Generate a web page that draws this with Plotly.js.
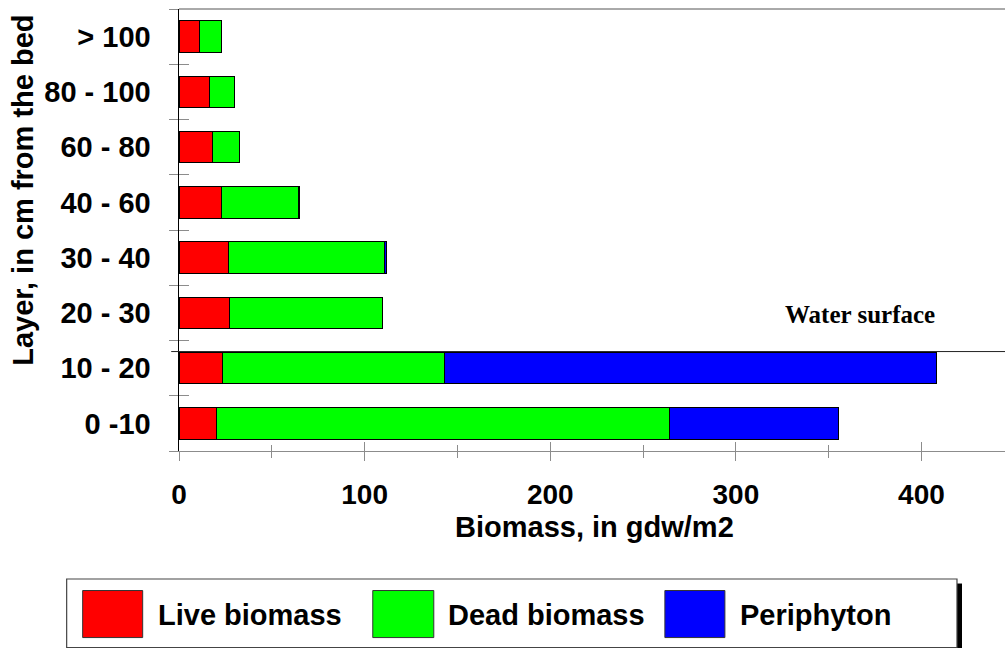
<!DOCTYPE html>
<html>
<head>
<meta charset="utf-8">
<script src="https://cdn.plot.ly/plotly-3.0.1.min.js"></script>
<style>html,body{margin:0;padding:0;background:#fff;}#chart{width:1005px;height:648px;}</style>
</head>
<body>
<div id="chart"></div>
<script>
// ---- data ----
const categories = ["0 -10", "10 - 20", "20 - 30", "30 - 40", "40 - 60", "60 - 80", "80 - 100", "> 100"];
const liveBiomass = [20, 23.7, 27.2, 26.6, 22.8, 18.3, 16.5, 11.2];
const deadBiomass = [244, 119.5, 82.4, 84.3, 41.7, 14.4, 13.5, 11.6];
const periphyton  = [91.5, 265, null, 1.1, 0.5, null, null, null];
const seriesNames = ["Live biomass", "Dead biomass", "Periphyton"];
const seriesColors = ["#ff0000", "#00ff00", "#0000ff"];
const xTickValues = [0, 100, 200, 300, 400];
const xTickLabels = ["0", "100", "200", "300", "400"];
const waterSurfaceLevel = 1.3;   // in layer-index units
const waterSurfaceLabel = "Water surface";
const xTitle = "Biomass, in gdw/m2";
const yTitle = "Layer, in cm from the bed";

// ---- geometry helpers (page pixels -> paper coords) ----
const W = 1005, H = 648;
const M = {l: 179.3, r: 0, t: 9, b: 197.4};
const plotW = W - M.l - M.r, plotH = H - M.t - M.b;
const px = p => (p - M.l) / plotW;
const py = p => (H - M.b - p) / plotH;

const FONT = "Liberation Sans, Arial, sans-serif";
const TICKGRAY = "#8c8c8c";

const seriesValues = [liveBiomass, deadBiomass, periphyton];
const traces = seriesNames.map((name, i) => ({
  type: "bar",
  orientation: "h",
  name: name,
  y: categories,
  x: seriesValues[i],
  marker: {color: seriesColors[i], line: {color: "#000", width: 1}},
  showlegend: false,
  hoverinfo: "x+y+name"
}));
// empty helper traces so the overlay tick axes are drawn
traces.push({type: "scatter", mode: "markers", x: [], y: [], xaxis: "x2", yaxis: "y", showlegend: false, hoverinfo: "skip"});
traces.push({type: "scatter", mode: "markers", x: [], y: [], xaxis: "x", yaxis: "y2", showlegend: false, hoverinfo: "skip"});

// manual legend (large swatches)
const legendSlots = [
  {x0: 83, x1: 143, tx: 156},
  {x0: 373, x1: 434, tx: 446},
  {x0: 665, x1: 725, tx: 738}
];
const shapes = [
  {type: "line", xref: "paper", yref: "paper", x0: 0, x1: 1, y0: 1, y1: 1, line: {color: "#555", width: 1}},
  {type: "line", xref: "paper", yref: "y", x0: px(171.5), x1: 1, y0: waterSurfaceLevel, y1: waterSurfaceLevel, line: {color: "#222", width: 1}},
  {type: "rect", xref: "paper", yref: "paper", x0: px(957), x1: px(962), y0: py(583), y1: py(648), fillcolor: "#000", line: {width: 0}},
  {type: "rect", xref: "paper", yref: "paper", x0: px(67), x1: px(957), y0: py(578.5), y1: py(647), fillcolor: "rgba(0,0,0,0)", line: {color: "#444", width: 1.2}}
];
const annotations = [
  {xref: "paper", yref: "paper", x: px(860), y: py(314), xanchor: "center", yanchor: "middle", showarrow: false,
   text: waterSurfaceLabel, font: {family: "Liberation Serif, Times New Roman, serif", size: 25, color: "#000", weight: 700}},
  {xref: "paper", yref: "paper", x: px(595), y: py(527), xanchor: "center", yanchor: "middle", showarrow: false,
   text: xTitle, font: {family: FONT, size: 29, color: "#000", weight: 700}},
  {xref: "paper", yref: "paper", x: px(24), y: py(190), xanchor: "center", yanchor: "middle", showarrow: false, textangle: -90,
   text: yTitle, font: {family: FONT, size: 29, color: "#000", weight: 700}}
];
seriesNames.forEach((name, i) => {
  const s = legendSlots[i];
  shapes.push({type: "rect", xref: "paper", yref: "paper", x0: px(s.x0), x1: px(s.x1), y0: py(637), y1: py(590),
    fillcolor: seriesColors[i], line: {color: "#333", width: 1}});
  annotations.push({xref: "paper", yref: "paper", x: px(s.tx), y: py(614), xanchor: "left", yanchor: "middle", showarrow: false,
    text: name, font: {family: FONT, size: 29, color: "#000", weight: 700}});
});

const xRange = [0, 445];
const yRange = [-0.5, categories.length - 0.5];

const layout = {
  width: W, height: H,
  margin: M,
  paper_bgcolor: "#fff", plot_bgcolor: "#fff",
  barmode: "stack",
  bargap: 0.43,
  showlegend: false,
  xaxis: {
    range: xRange, tickvals: xTickValues, ticktext: xTickLabels,
    ticks: "outside", ticklen: 9, tickwidth: 1, tickcolor: TICKGRAY,
    minor: {ticks: "outside", ticklen: 6, dtick: 50, tick0: 0, tickcolor: TICKGRAY, showgrid: false},
    showline: true, linecolor: TICKGRAY, linewidth: 1,
    showgrid: false, zeroline: false, ticklabelstandoff: 9,
    tickfont: {family: FONT, size: 28, color: "#000", weight: 700}
  },
  xaxis2: {
    overlaying: "x", anchor: "y", side: "bottom", range: xRange,
    tickvals: xTickValues, ticks: "inside", ticklen: 9, tickcolor: TICKGRAY,
    minor: {ticks: "inside", ticklen: 6, dtick: 50, tick0: 0, tickcolor: TICKGRAY, showgrid: false},
    showticklabels: false, showline: false, showgrid: false, zeroline: false
  },
  yaxis: {
    type: "category", categoryorder: "array", categoryarray: categories, range: yRange,
    tickson: "boundaries", ticks: "outside", ticklen: 9, tickcolor: TICKGRAY,
    showline: true, linecolor: "#000", linewidth: 1.5,
    showgrid: false, zeroline: false, ticklabelstandoff: 21,
    tickfont: {family: FONT, size: 29, color: "#000", weight: 700}
  },
  yaxis2: {
    overlaying: "y", anchor: "x", side: "left", type: "linear", range: yRange,
    tickvals: categories.map((_, i) => i - 0.5).concat([categories.length - 0.5]),
    ticks: "inside", ticklen: 10, tickcolor: TICKGRAY,
    showticklabels: false, showline: false, showgrid: false, zeroline: false
  },
  shapes: shapes,
  annotations: annotations
};

Plotly.newPlot("chart", traces, layout, {displayModeBar: false, staticPlot: true});
</script>
</body>
</html>
